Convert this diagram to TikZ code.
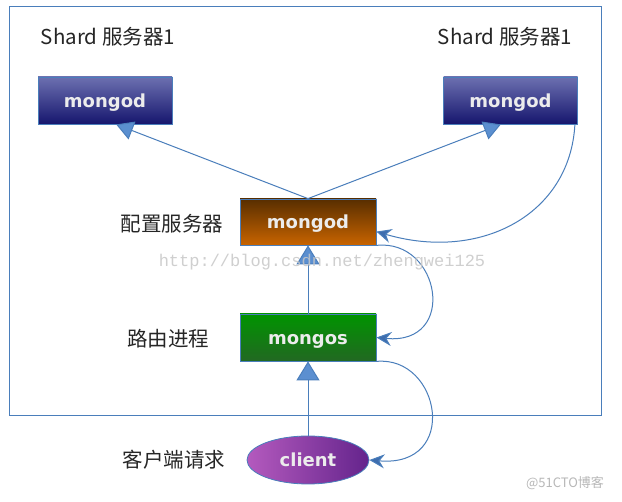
\documentclass[tikz,border=0pt]{standalone}
\usepackage{fontspec}
\setmainfont{Noto Sans CJK SC}
\newfontfamily\boxfont{DejaVu Sans}
\newfontfamily\wmfont{Liberation Mono}
\usetikzlibrary{shapes.geometric,arrows.meta,calc}
\definecolor{linec}{HTML}{4A7EBB}
\definecolor{headc}{HTML}{5B8FD0}
\definecolor{curveheadc}{HTML}{3E6DAE}
\definecolor{boxtext}{HTML}{ECECEC}
\tikzset{
  srvbox/.style={draw=linec, line width=0.8pt, minimum width=134pt, minimum height=47pt, inner sep=0pt,
     font=\boxfont\bfseries\fontsize{18}{18}\selectfont, text=boxtext, text height=16pt, text depth=2pt},
  lbl/.style={font=\fontsize{20.5}{22}\selectfont, text=black!85},
  conn/.style={draw=linec, line width=1pt},
  bighead/.style={-{Triangle[length=19pt,width=23pt,fill=headc]}},
  diaghead/.style={-{Triangle[length=17pt,width=19pt,fill=headc]}},
  curvehead/.style={-{Stealth[length=15pt,width=14pt,inset=5pt,fill=curveheadc]}},
}
\begin{document}
\begin{tikzpicture}[x=1pt,y=-1pt]
\useasboundingbox (0,0) rectangle (622,502);
\fill[white] (0,0) rectangle (622,502);
% outer frame
\node[draw=linec, line width=0.9pt, minimum width=592pt, minimum height=409pt, inner sep=0pt] (frame) at (305,210.5) {};
% labels
\node[lbl] (l1) at (108,37) {Shard 服务器1};
\node[lbl] (l2) at (505,37) {Shard 服务器1};
\node[lbl] (l3) at (172,224) {配置服务器};
\node[lbl] (l4) at (168,339) {路由进程};
\node[lbl] (l5) at (174,460) {客户端请求};
% boxes
\node[srvbox, top color={rgb,255:red,108;green,112;blue,176}, bottom color={rgb,255:red,22;green,22;blue,110}] (s1) at (105,100.5) {mongod};
\node[srvbox, top color={rgb,255:red,108;green,112;blue,176}, bottom color={rgb,255:red,22;green,22;blue,110}] (s2) at (510.5,100.5) {mongod};
\node[srvbox, minimum width=136pt, minimum height=46pt, top color={rgb,255:red,88;green,46;blue,0}, bottom color={rgb,255:red,200;green,100;blue,0}] (cfg) at (308,222) {mongod};
\node[srvbox, minimum width=136pt, minimum height=47pt, top color={rgb,255:red,0;green,148;blue,0}, bottom color={rgb,255:red,34;green,104;blue,34}] (router) at (308,337.5) {mongos};
\node[srvbox, ellipse, minimum width=122pt, minimum height=48pt, left color={rgb,255:red,180;green,90;blue,190}, right color={rgb,255:red,100;green,36;blue,140}] (client) at (308,460) {client};
% connectors
\draw[conn, diaghead] (cfg.north) -- (s1.-65);
\draw[conn, diaghead] (cfg.north) -- (s2.-112);
\draw[conn, bighead] (router.north) -- (cfg.south);
\draw[conn, bighead] (client.north) -- (router.south);
\draw[conn, curvehead] ($(s2.south east)+(-3,0)$) .. controls (570,215) and (480,262) .. (cfg.-8);
\draw[conn, curvehead] (cfg.south east) .. controls +(64,-7) and +(82,8) .. (router.east);
\draw[conn, curvehead] (router.south east) .. controls +(64,-6) and +(91,8) .. (client.east);
% watermarks
\node[font=\wmfont\fontsize{17}{17}\selectfont, text=black!22, opacity=0.85] (wm) at (322,262) {http://blog.csdn.net/zhengwei125};
\node[font=\fontsize{13}{13}\selectfont, text=black!28] (wm2) at (565,483) {@51CTO博客};
\end{tikzpicture}
\end{document}
